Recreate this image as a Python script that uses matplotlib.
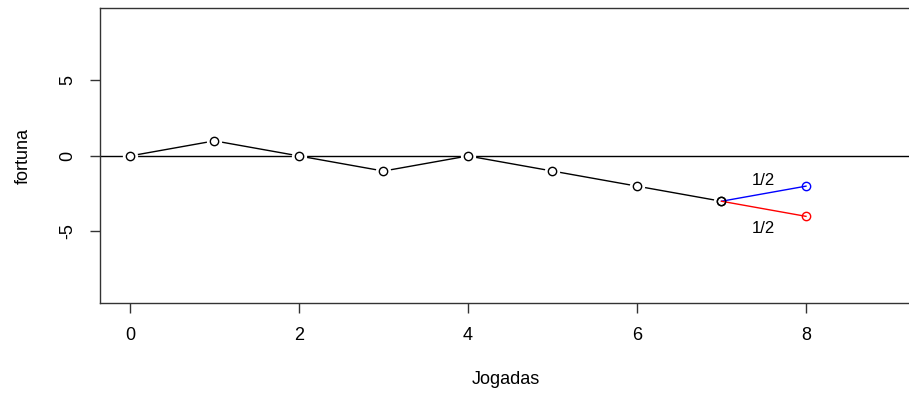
import matplotlib.pyplot as plt
import numpy as np

plt.rcParams['font.family'] = ['Liberation Sans', 'DejaVu Sans']

jogadas = [0, 1, 2, 3, 4, 5, 6, 7]
fortuna = [0, 1, 0, -1, 0, -1, -2, -3]
x_ramo = [7, 8]
ganha = [-3, -2]
perde = [-3, -4]
rotulos = ['1/2', '1/2']

fig = plt.figure(figsize=(9.09, 4.01), dpi=100)
ax = fig.add_axes([100/909, 98/401, 811/909, 295/401])

ax.axhline(0, color='black', lw=1, zorder=1)

# type="b" style: line with gaps around the points
ax.plot(jogadas, fortuna, color='black', lw=1, zorder=2)
ax.plot(jogadas, fortuna, ls='none', marker='o', ms=11, mfc='white', mec='none', zorder=3)
ax.plot(jogadas, fortuna, ls='none', marker='o', ms=6, mfc='none', mec='black', mew=1, zorder=4)

ax.plot(x_ramo, ganha, color='blue', lw=1, zorder=5)
ax.plot(x_ramo[1:], ganha[1:], ls='none', marker='o', ms=6, mfc='none', mec='blue', mew=1, zorder=6)
ax.plot(x_ramo, perde, color='red', lw=1, zorder=5)
ax.plot(x_ramo[1:], perde[1:], ls='none', marker='o', ms=6, mfc='none', mec='red', mew=1, zorder=6)
ax.plot([7], [-3], ls='none', marker='o', ms=6, mfc='none', mec='black', mew=1, zorder=7)

ax.text(7.5, -1.6, rotulos[0], ha='center', va='center', fontsize=12)
ax.text(7.5, -4.8, rotulos[1], ha='center', va='center', fontsize=12)

ax.set_xlim(-0.355, 9.243)
ax.set_ylim(-9.74, 9.8)
ax.set_xticks([0, 2, 4, 6, 8])
ax.set_yticks([-5, 0, 5])
ax.set_yticklabels(['-5', '0', '5'], rotation=90, va='center')
ax.tick_params(direction='out', length=7, width=1, labelsize=13, pad=10, colors='#333333', labelcolor='black')
for sp in ax.spines.values():
    sp.set_color('#333333')
    sp.set_linewidth(1)

ax.set_xlabel('Jogadas', fontsize=13, labelpad=20)
ax.set_ylabel('fortuna', fontsize=13, labelpad=20)

fig.savefig('out.png', dpi=100)
